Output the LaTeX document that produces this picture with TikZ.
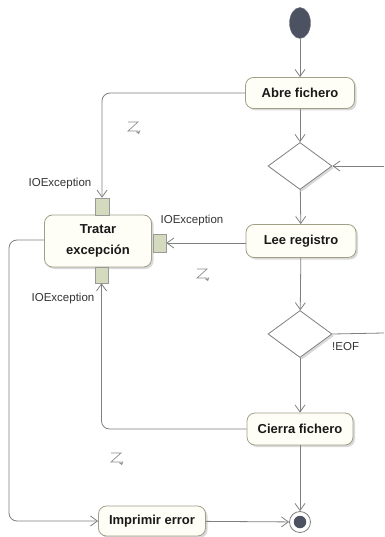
\documentclass[tikz,border=0pt]{standalone}
\usepackage{fontspec}
\setmainfont{Liberation Sans}
\usetikzlibrary{shapes.geometric,arrows.meta,shadows}
\definecolor{linec}{HTML}{808080}
\definecolor{bordc}{HTML}{A0A088}
\definecolor{fillc}{HTML}{FEFEF6}
\definecolor{pinc}{HTML}{D3DABD}
\definecolor{darkc}{HTML}{4C5262}
\tikzset{
  act/.style={draw=bordc, fill=fillc, rounded corners=8pt, line width=0.8pt,
    inner sep=2pt, align=center, text=black!90,
    font=\bfseries\fontsize{13}{20.5}\selectfont,
    drop shadow={shadow xshift=2pt, shadow yshift=-2pt, fill=black!25, opacity=0.6}},
  dec/.style={diamond, draw=linec, fill=white, line width=0.8pt, inner sep=0pt,
    minimum width=64pt, minimum height=47pt,
    drop shadow={shadow xshift=2pt, shadow yshift=-2pt, fill=black!25, opacity=0.6}},
  pinbox/.style={draw=linec!80, fill=pinc, line width=0.5pt, inner sep=0pt},
  flow/.style={draw=linec, line width=0.8pt, -{Straight Barb[length=7pt,width=10pt]}},
  plain/.style={draw=linec, line width=0.8pt},
  lbl/.style={font=\fontsize{11.5}{13}\selectfont, text=black!80, inner sep=0pt},
  zz/.style={draw=black!45, line width=0.7pt, -{Straight Barb[length=2.5pt,width=4pt]}},
}
\begin{document}
\begin{tikzpicture}[x=1pt,y=-1pt]
\useasboundingbox (0,0) rectangle (384,537);
% nodes
\node[ellipse, fill=darkc, draw=darkc!80, minimum width=21pt, minimum height=31pt, inner sep=0pt] (init) at (300,23) {};
\node[act, minimum width=109pt, minimum height=31pt] (abre) at (300,93) {Abre fichero};
\node[dec] (d1) at (300,166) {};
\node[act, minimum width=110pt, minimum height=33pt] (lee) at (301,241) {Lee registro};
\node[dec] (d2) at (300,334) {};
\node[act, minimum width=106pt, minimum height=32pt] (cierra) at (300,429) {Cierra fichero};
\node[act, minimum width=107pt, minimum height=30pt] (impr) at (152,521) {Imprimir error};
\node[act, minimum width=107pt, minimum height=52pt] (trat) at (98,241) {Tratar\\excepción};
\node[circle, draw=linec, fill=white, line width=0.8pt, minimum size=21pt, inner sep=0pt] (fin) at (300,522) {};
\node[circle, fill=darkc, minimum size=12.5pt, inner sep=0pt] (finin) at (300,522) {};
% pins
\node[pinbox, minimum width=14pt, minimum height=17pt] (ptop) at (102,206.5) {};
\node[pinbox, minimum width=13pt, minimum height=18pt] (pright) at (159.5,243) {};
\node[pinbox, minimum width=13pt, minimum height=16pt] (pbot) at (101.5,275) {};
% coordinates
\coordinate (rin) at (384,166);
\coordinate (rout) at (384,333);
\coordinate (lcorner) at (9,240);
% connectors
\draw[flow] (init) -- (abre);
\draw[flow] (abre) -- (d1);
\draw[flow] (d1) -- (lee);
\draw[flow] (lee) -- (d2);
\draw[flow] (d2) -- (cierra);
\draw[flow] (cierra) -- (fin);
\draw[flow] (impr) -- (fin);
\draw[flow] (rin) -- (d1.east);
\draw[plain] (d2.east) -- (rout);
\draw[flow, rounded corners=8pt] (abre.west) -| (ptop.north);
\draw[flow] (lee.west |- pright.east) -- (pright.east);
\draw[flow, rounded corners=8pt] (cierra.west) -| (pbot.south);
\draw[flow, rounded corners=8pt] (trat.west |- lcorner) -- (lcorner) |- (impr.west);
% labels
\node[lbl] (l1) at (60,184) {IOException};
\node[lbl] (l2) at (192,221) {IOException};
\node[lbl] (l3) at (63,299) {IOException};
\node[lbl, anchor=west] (l4) at (332,347) {!EOF};
% exception symbols
\draw[zz] (128,122) -- (138,122) -- (128,131) -- (138,131) -- (139,134);
\draw[zz] (197,269) -- (207,269) -- (197,278) -- (207,278) -- (208,281);
\draw[zz] (111,453) -- (121,453) -- (111,462) -- (121,462) -- (122,465);
\end{tikzpicture}
\end{document}
